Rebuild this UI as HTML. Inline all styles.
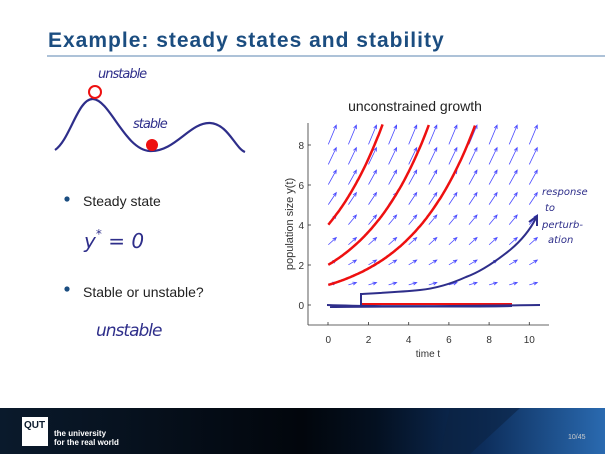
<!DOCTYPE html>
<html><head><meta charset="utf-8">
<style>
html,body{margin:0;padding:0;width:605px;height:454px;overflow:hidden;background:#fff;font-family:"Liberation Sans",sans-serif;}
</style></head>
<body>
<svg id="s" width="605" height="454" xmlns="http://www.w3.org/2000/svg">
<defs>
<linearGradient id="ft" x1="0" y1="0" x2="1" y2="0">
<stop offset="0" stop-color="#0a1a2c"/><stop offset="0.5" stop-color="#02060c"/><stop offset="0.62" stop-color="#041020"/><stop offset="0.8" stop-color="#0d2e5c"/><stop offset="1" stop-color="#2a6ab0"/>
</linearGradient>
</defs>
<text x="48" y="47" font-size="21" font-weight="bold" fill="#1b4d80" letter-spacing="1" font-family="Liberation Sans, sans-serif">Example: steady states and stability</text>
<line x1="47" y1="56" x2="605" y2="56" stroke="#5b86b0" stroke-width="1"/>
<path d="M55,150 C70,140 78,98 93,99 C110,100 125,150 150,151 C175,152 190,122 210,123 C228,124 235,148 245,152" fill="none" stroke="#2e2e8a" stroke-width="2.2"/>
<circle cx="95" cy="92" r="6" fill="none" stroke="#ee1010" stroke-width="2"/>
<circle cx="152" cy="145" r="6" fill="#ee1010"/>
<text x="98" y="78" font-size="13" fill="#2e2e8a" font-style="italic" font-family="DejaVu Sans, sans-serif" letter-spacing="-1">unstable</text>
<text x="133" y="128" font-size="13" fill="#2e2e8a" font-style="italic" font-family="DejaVu Sans, sans-serif" letter-spacing="-1">stable</text>
<circle cx="67" cy="199" r="2.6" fill="#1b4d80"/>
<text x="83" y="206" font-size="14" fill="#222">Steady state</text>
<text x="84" y="248" font-size="20" fill="#2e2e8a" font-style="italic" font-family="DejaVu Sans, sans-serif">y<tspan font-size="12" dy="-10">*</tspan><tspan dy="10"> = 0</tspan></text>
<circle cx="67" cy="289" r="2.6" fill="#1b4d80"/>
<text x="83" y="297" font-size="14" fill="#222">Stable or unstable?</text>
<text x="96" y="336" font-size="17" fill="#2e2e8a" font-style="italic" font-family="DejaVu Sans, sans-serif" letter-spacing="-1">unstable</text>
<text x="415" y="111" font-size="14" fill="#222" text-anchor="middle">unconstrained growth</text>
<g id="arrows" stroke="#4a4aff" stroke-width="0.8" fill="none"></g>
<g id="curves" fill="none" stroke="#ee1010" stroke-width="2.5"></g>
<line x1="308" y1="123" x2="308" y2="325" stroke="#333" stroke-width="0.8"/>
<line x1="308" y1="325" x2="549" y2="325" stroke="#333" stroke-width="0.8"/>
<g font-size="10" fill="#333" text-anchor="end">
<text x="304" y="149">8</text><text x="304" y="189">6</text><text x="304" y="229">4</text><text x="304" y="269">2</text><text x="304" y="309">0</text>
</g>
<g stroke="#333" stroke-width="0.8">
<line x1="308" y1="145" x2="311" y2="145"/><line x1="308" y1="185" x2="311" y2="185"/><line x1="308" y1="225" x2="311" y2="225"/><line x1="308" y1="265" x2="311" y2="265"/><line x1="308" y1="305" x2="311" y2="305"/>
<line x1="328" y1="325" x2="328" y2="322"/><line x1="368.5" y1="325" x2="368.5" y2="322"/><line x1="408.7" y1="325" x2="408.7" y2="322"/><line x1="448.9" y1="325" x2="448.9" y2="322"/><line x1="489.1" y1="325" x2="489.1" y2="322"/><line x1="529.3" y1="325" x2="529.3" y2="322"/>
</g>
<g font-size="10" fill="#333" text-anchor="middle">
<text x="328.3" y="343">0</text><text x="368.5" y="343">2</text><text x="408.7" y="343">4</text><text x="448.9" y="343">6</text><text x="489.1" y="343">8</text><text x="529.3" y="343">10</text>
<text x="428" y="357">time t</text>
</g>
<text transform="translate(293,224) rotate(-90)" font-size="11" fill="#333" text-anchor="middle">population size y(t)</text>
<line x1="361" y1="304" x2="512" y2="304" stroke="#ee1010" stroke-width="2"/>
<path d="M327,305 C380,307 450,306 540,305 M330,307 C400,306 470,307 512,306" fill="none" stroke="#2e2e8a" stroke-width="2"/>
<path d="M361,305 L361,294 C380,293 400,292 420,290 C440,288 455,282 466,277 C480,272 495,262 510,250 C522,240 530,230 536,218" fill="none" stroke="#2e2e8a" stroke-width="2"/>
<path d="M529,222 L537,216 L537,226" fill="none" stroke="#2e2e8a" stroke-width="2"/>
<g font-size="10" fill="#2e2e8a" font-style="italic" font-family="DejaVu Sans, sans-serif">
<text x="542" y="195">response</text><text x="545" y="211">to</text><text x="542" y="228">perturb-</text><text x="548" y="243">ation</text>
</g>
<rect x="0" y="408" width="605" height="46" fill="url(#ft)"/>
<path d="M450,408 L520,408 L470,454 L440,454 Z" fill="#0b2342" opacity="0.6"/>
<rect x="22" y="417" width="26" height="29" fill="#fff"/>
<text x="24" y="428" font-size="10" font-weight="bold" fill="#0a1a2c">QUT</text>
<text x="54" y="436" font-size="8" font-weight="bold" fill="#fff">the university</text>
<text x="54" y="445" font-size="8" font-weight="bold" fill="#fff">for the real world</text>
<text x="568" y="439" font-size="7" fill="#ccc">10/45</text>
</svg>
<script>
function X(t){return 328.3+20.1*t}function Y(y){return 305-20.08*y}
var g=document.getElementById("arrows"),h="";
for(var t=0;t<=10;t++){for(var y=1;y<=8;y++){
var x0=X(t),y0=Y(y),dx=8,dy=8*0.3*y;
var x1=x0+dx,y1=y0-dy,a=Math.atan2(-dy,dx),L=4;
h+='<path d="M'+x0+','+y0+' L'+x1+','+y1+' M'+(x1-L*Math.cos(a-0.4))+','+(y1-L*Math.sin(a-0.4))+' L'+x1+','+y1+' L'+(x1-L*Math.cos(a+0.4))+','+(y1-L*Math.sin(a+0.4))+'"/>';
}}
g.innerHTML=h;
var c=document.getElementById("curves"),s="";
[1,2,4].forEach(function(a){var p=[];for(var t=0;t<=10;t+=0.05){var v=a*Math.exp(0.3*t);if(v>9.06)break;p.push(X(t).toFixed(1)+","+Y(v).toFixed(1));}
s+='<polyline points="'+p.join(" ")+'"/>';});
c.innerHTML=s;
</script>
</body></html>
